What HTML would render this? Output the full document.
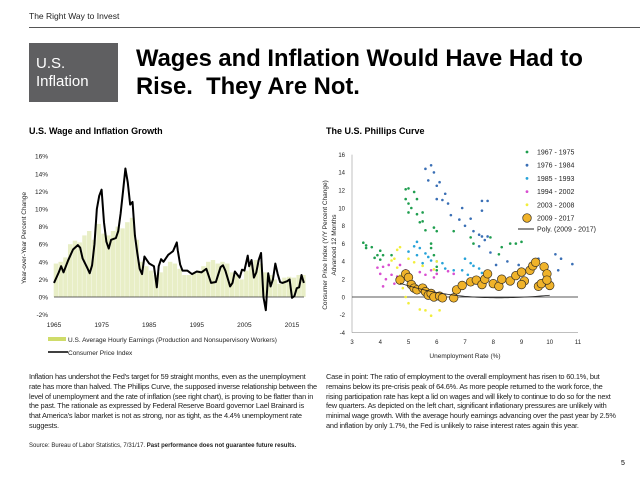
<!DOCTYPE html>
<html><head><meta charset="utf-8"><style>
body{margin:0;width:640px;height:480px;overflow:hidden;background:#fff;font-family:"Liberation Sans",Arial,sans-serif;position:relative}
.abs{position:absolute}
.p{font-size:7.4px;line-height:9.8px;color:#222;letter-spacing:-0.2px}
</style></head><body>
<div class="abs" style="left:29px;top:11px;font-size:8.5px;color:#222">The Right Way to Invest</div>
<div class="abs" style="left:29px;top:27px;width:611px;height:1px;background:#555"></div>
<div class="abs" style="left:29px;top:43px;width:89px;height:59px;background:#5f5f61;color:#fff;font-size:15px;line-height:18px;padding:12px 0 0 7px;box-sizing:border-box">U.S.<br>Inflation</div>
<div class="abs" style="left:136px;top:45px;font-size:23.8px;font-weight:bold;line-height:28px;color:#000">Wages and Inflation Would Have Had to<br>Rise.&nbsp; They Are Not.</div>
<div class="abs" style="left:29px;top:126px;font-size:9px;font-weight:bold">U.S. Wage and Inflation Growth</div>
<div class="abs" style="left:326px;top:126px;font-size:9px;font-weight:bold">The U.S. Phillips Curve</div>
<svg class="abs" style="left:0;top:0" width="640" height="480" id="svg"></svg>
<div class="abs p" style="left:29px;top:372px;width:288px">Inflation has undershot the Fed's target for 59 straight months, even as the unemployment rate has more than halved. The Phillips Curve, the supposed inverse relationship between the level of unemployment and the rate of inflation (see right chart), is proving to be flatter than in the past. The rationale as expressed by Federal Reserve Board governor Lael Brainard is that America's labor market is not as strong, nor as tight, as the 4.4% unemployment rate suggests.</div>
<div class="abs p" style="left:326px;top:372px;width:290px">Case in point: The ratio of employment to the overall employment has risen to 60.1%, but remains below its pre-crisis peak of 64.6%. As more people returned to the work force, the rising participation rate has kept a lid on wages and will likely to continue to do so for the next few quarters. As depicted on the left chart, significant inflationary pressures are unlikely with minimal wage growth. With the average hourly earnings advancing over the past year by 2.5% and inflation by only 1.7%, the Fed is unlikely to raise interest rates again this year.</div>
<div class="abs" style="left:29px;top:443px;font-size:6px;color:#222">Source: Bureau of Labor Statistics, 7/31/17. <b>Past performance does not guarantee future results.</b></div>
<div class="abs" style="left:621px;top:460px;font-size:7px">5</div>
<script>
const wageYears=[1965,1966,1967,1968,1969,1970,1971,1972,1973,1974,1975,1976,1977,1978,1979,1980,1981,1982,1983,1984,1985,1986,1987,1988,1989,1990,1991,1992,1993,1994,1995,1996,1997,1998,1999,2000,2001,2002,2003,2004,2005,2006,2007,2008,2009,2010,2011,2012,2013,2014,2015,2016,2017];
const wageValues=[3.8,4,4.5,6,6.4,6.2,7,7.5,6.5,8.3,7.2,7,7.5,8,7.8,8.5,9,6.5,4,3.5,3,2.5,2.8,3.5,4,3.8,3.2,2.5,2.5,2.7,3,3.5,4,4.2,3.8,4,3.8,2.8,2.5,2,3,4,4.2,3.8,2.8,2.5,2,1.5,2.2,2.3,2.2,2.5,2.5];
const cpiYears=[1965,1966,1966.5,1967,1968,1969,1970,1970.5,1971,1972,1972.5,1973,1973.5,1974,1974.5,1975,1975.5,1976,1976.5,1977,1978,1978.5,1979,1979.5,1980,1980.5,1981,1981.5,1982,1982.5,1983,1983.5,1984,1984.5,1985,1986,1986.6,1987,1987.5,1988,1989,1989.5,1990,1990.8,1991,1991.5,1992,1993,1994,1995,1996,1997,1998,1999,2000,2000.5,2001,2002,2002.5,2003,2004,2004.5,2005,2005.7,2006,2006.5,2007,2007.5,2008,2008.5,2009,2009.5,2010,2010.5,2011,2011.5,2012,2012.5,2013,2014,2014.5,2015,2015.5,2016,2016.5,2017,2017.5];
const cpiValues=[1.6,2.8,3.5,2.8,4.2,5.4,5.9,5.6,4.4,3.3,2.7,3.6,6,10,11.5,12.2,8.5,6.3,5.5,6.5,6.7,7.5,9.5,12,14.6,13,10.5,10.8,7,5,3.2,2.6,4.6,4.2,3.8,3.5,1.1,3.5,4.3,4,4.8,5,5.2,6.2,5.3,3.7,3,3,2.6,2.9,2.8,3.2,1.6,1.7,3.4,3.6,3,1.2,1.6,2.9,2.2,3.1,3,4.7,3.5,4.2,2.2,2.8,4.2,5,0,-1.5,2.7,1.2,2,3.8,2.6,1.7,1.6,1.8,2,-0.1,0.1,1,1.1,2.5,1.6];
const leftYTicks=[-2,0,2,4,6,8,10,12,14,16];
const leftXTicks=[1965,1975,1985,1995,2005,2015];
const groupNames=["1967 - 1975","1976 - 1984","1985 - 1993","1994 - 2002","2003 - 2008","2009 - 2017"];
const g1967=[[3.4,6.1],[3.5,5.8],[3.5,5.5],[3.7,5.6],[3.8,4.4],[3.9,4.7],[4,5.2],[4,4.2],[4.1,4.7],[4.4,4.7],[4.9,12.1],[5,12.2],[4.9,11],[5,10.5],[5,9.5],[5.1,10],[5.2,11.8],[5.3,11],[5.3,9.3],[5.4,8.4],[5.5,9.5],[5.6,7.5],[5.5,8.5],[5.8,5.5],[5.8,6],[5.9,7.8],[6,7.4],[5.9,4.7],[6,3.4],[6.6,7.4],[7.2,6.7],[7.3,6],[7.9,6.7],[8.2,4.8],[8.3,5.6],[8.6,6],[8.8,6],[9,6.2],[6,3]];
const g1976=[[5.6,14.4],[5.8,14.8],[5.7,13.1],[5.9,14],[6,12.5],[6.1,12.9],[6,11],[6.2,10.9],[6.3,11.6],[6.4,10.5],[6.5,9.2],[6.9,10],[6.8,8.7],[7,8],[7.2,8.8],[7.3,7.4],[7.5,7],[7.6,10.8],[7.6,9.7],[7.8,10.8],[7.6,6.8],[7.7,6.4],[7.8,6.8],[7.9,5],[7.5,5.7],[8.5,4],[8.9,3.6],[9.7,3.5],[10.2,4.8],[10.4,4.3],[10.8,3.7],[10.3,3],[9.6,4.3],[8.1,3.6]];
const g1985=[[5,5.1],[5.2,5.7],[5.3,6.2],[5.4,5.5],[5.3,4.7],[5.6,4.9],[5.8,4.1],[6,4],[6.2,3.8],[6.3,3.2],[6.6,3],[7,4.3],[7.2,3.8],[7.3,3.5],[7.5,3.2],[7.6,2.7],[6.9,3],[7.1,2.5],[5.5,3.8],[5.7,4.5]];
const g1994=[[3.9,3.3],[4,2.6],[4.1,3.4],[4.2,2],[4.3,3.6],[4.4,2.5],[4.5,1.5],[4.6,2.3],[4.7,3.6],[4.9,3],[5,2.2],[5.4,2.8],[5.6,2.5],[5.8,3],[5.9,2.2],[6,2.6],[6.4,2.9],[6.6,2.6],[4.1,1.2]];
const g2003=[[4.4,4.1],[4.6,5.3],[4.7,5.6],[4.6,3.3],[4.7,2.4],[4.8,1],[5,4.3],[4.9,0],[5,-0.7],[5.2,3.9],[5.4,-1.4],[5.6,-1.5],[5.8,-2.1],[6.1,-1.5],[5.5,3.5],[5.9,3.1],[6,4],[4.5,4.3]];
const g2009=[[4.7,1.9],[4.9,2.6],[5,2.2],[5.1,1.4],[5.2,1],[5.3,0.8],[5.5,1],[5.6,0.6],[5.7,0.2],[5.8,0.4],[5.9,0],[6.1,0.1],[6.2,-0.1],[6.6,-0.1],[6.7,0.8],[6.9,1.3],[7.2,1.7],[7.4,1.9],[7.6,1.4],[7.7,2],[7.8,2.6],[8,1.5],[8.2,1.2],[8.3,2],[8.6,1.8],[8.8,2.4],[9,2.8],[9.1,1.8],[9.3,3],[9.4,3.5],[9.5,3.9],[9.6,1.2],[9.7,1.5],[9.8,3.4],[9.9,2.6],[10,1.3],[9.9,1.9],[9,1.4]];
const polyCoef=[11.6,-3.42,0.3125,-0.00845];
const rightXTicks=[3,4,5,6,7,8,9,10,11];
const rightYTicks=[-4,-2,0,2,4,6,8,10,12,14,16];

const NS="http://www.w3.org/2000/svg",svg=document.getElementById('svg');
function mk(t,a,p){const e=document.createElementNS(NS,t);for(const k in a)e.setAttribute(k,a[k]);(p||svg).appendChild(e);return e;}
const lx=y=>54+(y-1965)*4.76, ly=v=>297-v*8.8;
const L=mk('g',{});
wageYears.forEach((y,i)=>{const b=mk('rect',{x:lx(y)-0.3,y:ly(wageValues[i]),width:4.4,height:ly(0)-ly(wageValues[i]),fill:'#e8eec6'},L);

});
mk('line',{x1:54,x2:304,y1:ly(0),y2:ly(0),stroke:'#333','stroke-width':0.8},L);
leftYTicks.forEach(v=>{const t=mk('text',{x:48,y:ly(v)+2.5,'font-size':6.5,'text-anchor':'end',fill:'#222'},L);t.textContent=v+'%';

});
leftXTicks.forEach(v=>{const t=mk('text',{x:lx(v),y:327,'font-size':6.5,'text-anchor':'middle',fill:'#222'},L);t.textContent=v;

});
const cpi=mk('polyline',{points:cpiYears.map((y,i)=>lx(y)+','+ly(cpiValues[i])).join(' '),fill:'none',stroke:'#000','stroke-width':2,'stroke-linejoin':'round'},L);


const yt=mk('text',{transform:'translate(26,238) rotate(-90)','font-size':6.5,'text-anchor':'middle',fill:'#222'},L);yt.textContent='Year-over-Year Percent Change';


mk('rect',{x:48,y:337,width:18,height:4,fill:'#cfdc6a'},L);
let t1=mk('text',{x:68,y:342,'font-size':6.5,fill:'#222'},L);t1.textContent='U.S. Average Hourly Earnings (Production and Nonsupervisory Workers)';


mk('line',{x1:48,x2:68,y1:352,y2:352,stroke:'#000','stroke-width':1.5},L);
let t2=mk('text',{x:68,y:355,'font-size':6.5,fill:'#222'},L);t2.textContent='Consumer Price Index';


const rx=v=>352+(v-3)*28.25, ry=v=>297-v*8.9;
const R=mk('g',{});
mk('line',{x1:352,x2:352,y1:ry(16),y2:ry(-4),stroke:'#999','stroke-width':0.6},R);
mk('line',{x1:352,x2:578,y1:ry(-4),y2:ry(-4),stroke:'#999','stroke-width':0.6},R);
mk('line',{x1:352,x2:578,y1:ry(0),y2:ry(0),stroke:'#222','stroke-width':0.8},R);
rightYTicks.forEach(v=>{const t=mk('text',{x:345,y:ry(v)+2.3,'font-size':6,'text-anchor':'end',fill:'#222'},R);t.textContent=v;

});
rightXTicks.forEach(v=>{const t=mk('text',{x:rx(v),y:344,'font-size':6,'text-anchor':'middle',fill:'#222'},R);t.textContent=v;

});
const xt=mk('text',{x:465,y:358,'font-size':6.5,'text-anchor':'middle',fill:'#222'},R);xt.textContent='Unemployment Rate (%)';


const ya=mk('text',{transform:'translate(327,245) rotate(-90)','font-size':6.5,'text-anchor':'middle',fill:'#222'},R);ya.textContent='Consumer Price Index (Y/Y Percent Change)';


const yb=mk('text',{transform:'translate(336,245) rotate(-90)','font-size':6.5,'text-anchor':'middle',fill:'#222'},R);yb.textContent='Advanced 12 Months';


const groups=[g1967,g1976,g1985,g1994,g2003];const cols=['#1f9e4f','#3a6fb5','#27a3d9','#d94fd1','#f2ee3b'];
groups.forEach((g,gi)=>g.forEach(p=>{const c=mk('circle',{cx:rx(p[0]),cy:ry(p[1]),r:1.3,fill:cols[gi]},R);

}));
g2009.forEach(p=>{const c=mk('circle',{cx:rx(p[0]),cy:ry(p[1]),r:4.3,fill:'#f0b32a',stroke:'#3a3020','stroke-width':0.7},R);

});
const pp=[];for(let x=4.7;x<=10.01;x+=0.1){const y=polyCoef[0]+polyCoef[1]*x+polyCoef[2]*x*x+polyCoef[3]*x*x*x;pp.push(rx(x)+','+ry(y));}
const pl=mk('polyline',{points:pp.join(' '),fill:'none',stroke:'#222','stroke-width':0.8},R);


groupNames.forEach((n,i)=>{const y=152+i*13.2;
if(i<5){mk('circle',{cx:527,cy:y,r:1.4,fill:cols[i]},R);}else{mk('circle',{cx:527,cy:y,r:4.3,fill:'#f0b32a',stroke:'#3a3020','stroke-width':0.7},R);}
const t=mk('text',{x:537,y:y+2.5,'font-size':7,fill:'#222'},R);t.textContent=n;

});
mk('line',{x1:518,x2:534,y1:229,y2:229,stroke:'#222','stroke-width':1},R);
const lp=mk('text',{x:537,y:231.5,'font-size':7,fill:'#222'},R);lp.textContent='Poly. (2009 - 2017)';


</script>
</body></html>
